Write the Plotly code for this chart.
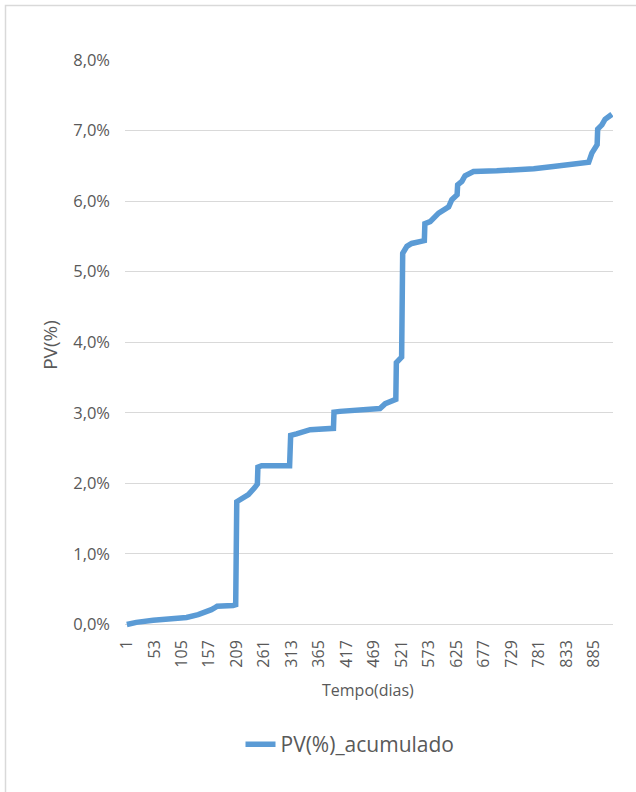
import plotly.graph_objects as go

# Cumulative PV (%), at the day where the shape changes
days = [1, 19, 51, 82, 114, 136, 145, 150, 155, 161, 166, 172, 202, 207,
        209, 218, 231, 243, 248, 249, 256, 309, 311, 322, 348, 392,
        393, 404, 480, 490, 505, 510, 511, 518, 521, 523, 531, 540,
        559, 564, 565, 575, 591, 610, 616, 626, 627, 635, 641, 657,
        701, 739, 771, 808, 846, 865, 875, 881, 891, 892, 900, 906,
        916, 919]
pv = [0.00, 0.03, 0.06, 0.08, 0.10, 0.14, 0.16, 0.19, 0.20, 0.21, 0.23, 0.26,
      0.27, 0.28,
      1.74, 1.79, 1.84, 1.94, 1.99, 2.23, 2.25, 2.25, 2.68, 2.70, 2.76, 2.78,
      3.01, 3.02, 3.06, 3.13, 3.18, 3.19, 3.71, 3.78, 3.79, 5.26, 5.36, 5.40,
      5.43, 5.44, 5.68, 5.71, 5.83, 5.92, 6.02, 6.09, 6.23, 6.28, 6.36, 6.42,
      6.43, 6.44, 6.46, 6.49, 6.52, 6.53, 6.55, 6.68, 6.80, 7.02, 7.08, 7.16,
      7.22, 7.23]
x_ticks = list(range(1, 886, 52))
y_ticks = [0, 1, 2, 3, 4, 5, 6, 7, 8]
y_tick_labels = ["0,0%", "1,0%", "2,0%", "3,0%", "4,0%", "5,0%", "6,0%",
                 "7,0%", "8,0%"]

series_name = "PV(%)_acumulado"
x_title = "Tempo(dias)"
y_title = "PV(%)"

BLUE = "#5B9BD5"
GRID = "#D9D9D9"
TXT = "#595959"
FONT = "Open Sans"

W, H = 636, 792
L, R = 125, 23
T = 60
y_min, y_max = -0.05, 8.0
px_per_unit = 70.6
plot_h = (y_max - y_min) * px_per_unit
B = H - T - plot_h
plot_w = W - L - R


def px(xp):
    return (xp - L) / plot_w


def py(yp):
    return (T + plot_h - yp) / plot_h


fig = go.Figure()
fig.add_trace(go.Scatter(
    x=days, y=pv, mode="lines", name=series_name,
    line=dict(color=BLUE, width=5.5),
))

fig.update_layout(
    width=W, height=H,
    margin=dict(l=L, r=R, t=T, b=B, pad=0),
    paper_bgcolor="white", plot_bgcolor="white",
    font=dict(family=FONT, color=TXT, size=16),
    showlegend=True,
    legend=dict(orientation="h", x=px(350), xanchor="center",
                y=py(745), yanchor="middle",
                font=dict(size=21, color=TXT, family=FONT),
                bgcolor="rgba(0,0,0,0)"),
    xaxis=dict(range=[-2.5, 921], tickmode="array", tickvals=x_ticks,
               ticktext=[str(v) for v in x_ticks], tickangle=-90,
               showgrid=False, zeroline=False, showline=False, ticks="",
               ticklabelstandoff=8,
               tickfont=dict(size=16, color=TXT, family=FONT)),
    yaxis=dict(range=[y_min, y_max], tickmode="array", tickvals=y_ticks,
               ticktext=y_tick_labels,
               showgrid=True, gridcolor=GRID, gridwidth=1.3,
               zeroline=False, showline=False, ticks="",
               ticklabelstandoff=14,
               tickfont=dict(size=16.5, color=TXT, family=FONT)),
    annotations=[
        dict(text=x_title, xref="paper", yref="paper", x=px(368), y=py(690),
             xanchor="center", yanchor="middle", showarrow=False,
             font=dict(size=16, color=TXT, family=FONT)),
        dict(text=y_title, xref="paper", yref="paper", x=px(50), y=py(345),
             xanchor="center", yanchor="middle", showarrow=False,
             textangle=-90, font=dict(size=19, color=TXT, family=FONT)),
    ],
    shapes=[dict(type="rect", xref="paper", yref="paper",
                 x0=px(5.5), x1=px(645), y0=py(800), y1=py(5.5),
                 line=dict(color=GRID, width=1.5), layer="below")],
)

fig.write_html("out.html")
